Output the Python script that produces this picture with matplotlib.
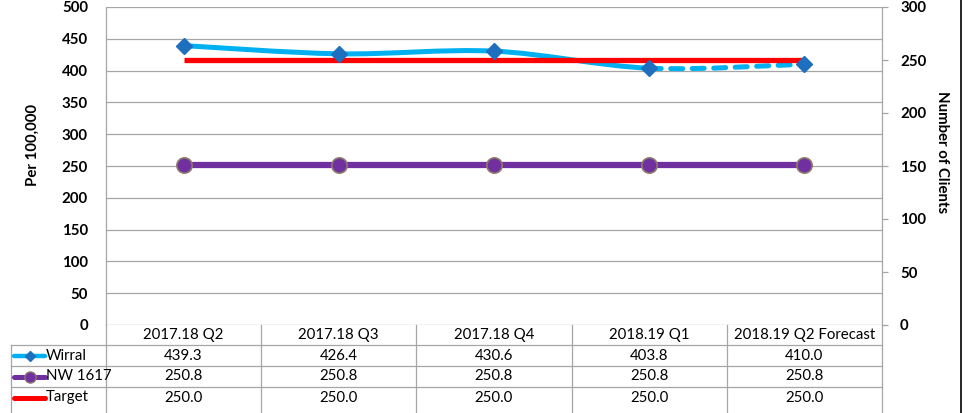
import matplotlib
matplotlib.use("Agg")
import matplotlib.pyplot as plt
from matplotlib.path import Path
from matplotlib.patches import PathPatch
from matplotlib.lines import Line2D
import numpy as np

categories = ["2017.18 Q2", "2017.18 Q3", "2017.18 Q4", "2018.19 Q1", "2018.19 Q2 Forecast"]
wirral = [439.3, 426.4, 430.6, 403.8, 410.0]
nw1617 = [250.8, 250.8, 250.8, 250.8, 250.8]
target = [250.0, 250.0, 250.0, 250.0, 250.0]
left_ticks = [0, 50, 100, 150, 200, 250, 300, 350, 400, 450, 500]
right_ticks = [0, 50, 100, 150, 200, 250, 300]

plt.rcParams['font.family'] = ['Lato', 'DejaVu Sans']

W, H = 969, 413
fig = plt.figure(figsize=(W / 100, H / 100), dpi=100)
L, R, T, B = 106, 882, 7, 325
ax = fig.add_axes([L / W, (H - B) / H, (R - L) / W, (B - T) / H])
ax2 = ax.twinx()

GRID = "#A6A6A6"
x = np.arange(len(categories))
ax.set_xlim(-0.5, len(categories) - 0.5)
ax.set_ylim(0, 500)
ax2.set_ylim(0, 300)

for v in left_ticks:
    ax.axhline(v, color=GRID, lw=0.9, zorder=0)

TFS = 10.8
ax.set_yticks(left_ticks)
ax.set_yticklabels([str(v) for v in left_ticks], fontweight="bold", fontsize=TFS)
ax.tick_params(axis="y", length=0, pad=13)
ax.set_xticks([])
ax2.set_yticks(right_ticks)
ax2.set_yticklabels([str(v) for v in right_ticks], fontweight="bold", fontsize=TFS)
ax2.tick_params(axis="y", length=4, color=GRID, pad=9, width=0.9)
for a in (ax, ax2):
    for s in ("top", "bottom"):
        a.spines[s].set_visible(False)
    a.spines["left"].set_color(GRID)
    a.spines["right"].set_color(GRID)
    a.spines["left"].set_linewidth(0.9)
    a.spines["right"].set_linewidth(0.9)
ax.spines["right"].set_visible(False)
ax2.spines["left"].set_visible(False)

# smooth bezier (Excel-like) for Wirral
xs = list(x.astype(float))
ys = list(wirral)
n = len(xs)
def seg(i):
    p0 = (xs[max(i - 1, 0)], ys[max(i - 1, 0)])
    p1 = (xs[i], ys[i])
    p2 = (xs[i + 1], ys[i + 1])
    p3 = (xs[min(i + 2, n - 1)], ys[min(i + 2, n - 1)])
    c1 = (p1[0] + (p2[0] - p0[0]) / 6, p1[1] + (p2[1] - p0[1]) / 6)
    c2 = (p2[0] - (p3[0] - p1[0]) / 6, p2[1] - (p3[1] - p1[1]) / 6)
    return p1, c1, c2, p2

verts, codes = [], []
for i in range(n - 2):
    p1, c1, c2, p2 = seg(i)
    if i == 0:
        verts.append(p1); codes.append(Path.MOVETO)
    verts += [c1, c2, p2]; codes += [Path.CURVE4] * 3
solid = PathPatch(Path(verts, codes), fill=False, edgecolor="#00B0F0", lw=3.6,
                  capstyle="round", joinstyle="round", zorder=3)
ax.add_patch(solid)
p1, c1, c2, p2 = seg(n - 2)
dashed = PathPatch(Path([p1, c1, c2, p2], [Path.MOVETO] + [Path.CURVE4] * 3), fill=False,
                   edgecolor="#00B0F0", lw=3.6, linestyle=(0, (2.4, 1.9)), capstyle="round",
                   zorder=3)
ax.add_patch(dashed)

# NW 1617
ax.plot(x, nw1617, color="#7030A0", lw=4.5, marker="o", markersize=11,
        markerfacecolor="#7030A0", markeredgecolor="#8C7A6B", markeredgewidth=1.2, zorder=4)

# Target on secondary axis
ax2.plot(x, target, color="#FF0000", lw=3.8, solid_capstyle="butt", zorder=3)
# Wirral markers on top
ax2.plot(x, wirral, transform=ax.transData, ls="none", marker="D", markersize=8,
         markerfacecolor="#1F6FBF", markeredgecolor="#1F6FBF", zorder=5)

# table (in figure pixel coordinates)
def px(xp, yp):
    return xp / W, (H - yp) / H
def hline(x0, x1, yp, c=GRID, lw=0.9):
    fig.add_artist(Line2D([x0 / W, x1 / W], [(H - yp) / H] * 2, color=c, lw=lw))
def vline(xp, y0, y1, c=GRID, lw=0.9):
    fig.add_artist(Line2D([xp / W] * 2, [(H - y0) / H, (H - y1) / H], color=c, lw=lw))

FS = 10.8
col_w = (R - L) / len(categories)
rows = [345, 366, 387]
for yp in rows:
    hline(11, R, yp)
vline(11, 345, 413)
for j in range(len(categories) + 1):
    vline(L + j * col_w, B, 413)
hdr_y = 335.5
for j, c in enumerate(categories):
    fig.text(*px(L + (j + 0.5) * col_w, hdr_y), c, ha="center", va="center", fontsize=FS)
series_rows = [wirral, nw1617, target]
for r, vals in enumerate(series_rows):
    yc = rows[r] + 10.5
    for j, v in enumerate(vals):
        fig.text(*px(L + (j + 0.5) * col_w, yc), f"{v:.1f}", ha="center", va="center", fontsize=FS)

names = ["Wirral", "NW 1617", "Target"]
for r, name in enumerate(names):
    yc = rows[r] + 10.5
    fy = (H - yc) / H
    if r == 0:
        fig.add_artist(Line2D([14 / W, 45 / W], [fy, fy], color="#00B0F0", lw=3.2, solid_capstyle="round"))
        fig.add_artist(Line2D([29.5 / W], [fy], marker="D", markersize=5.5, color="#1F6FBF", ls="none"))
    elif r == 1:
        fig.add_artist(Line2D([14 / W, 45 / W], [fy, fy], color="#7030A0", lw=3.6, solid_capstyle="round"))
        fig.add_artist(Line2D([29.5 / W], [fy], marker="o", markersize=8, markerfacecolor="#7030A0",
                              markeredgecolor="#8C7A6B", ls="none"))
    else:
        fig.add_artist(Line2D([14 / W, 45 / W], [fy, fy], color="#FF0000", lw=3.6, solid_capstyle="round"))
    fig.text(46 / W, fy, name, ha="left", va="center", fontsize=FS)

fig.text(*px(33, 145), "Per 100,000", rotation=90, ha="center", va="center",
         fontsize=TFS, fontweight="bold")
fig.text(*px(942, 152), "Number of Clients", rotation=-90, ha="center", va="center",
         fontsize=TFS, fontweight="bold")

vline(961, 0, 413, c="black", lw=1.2)

fig.savefig("out.png", dpi=100)
